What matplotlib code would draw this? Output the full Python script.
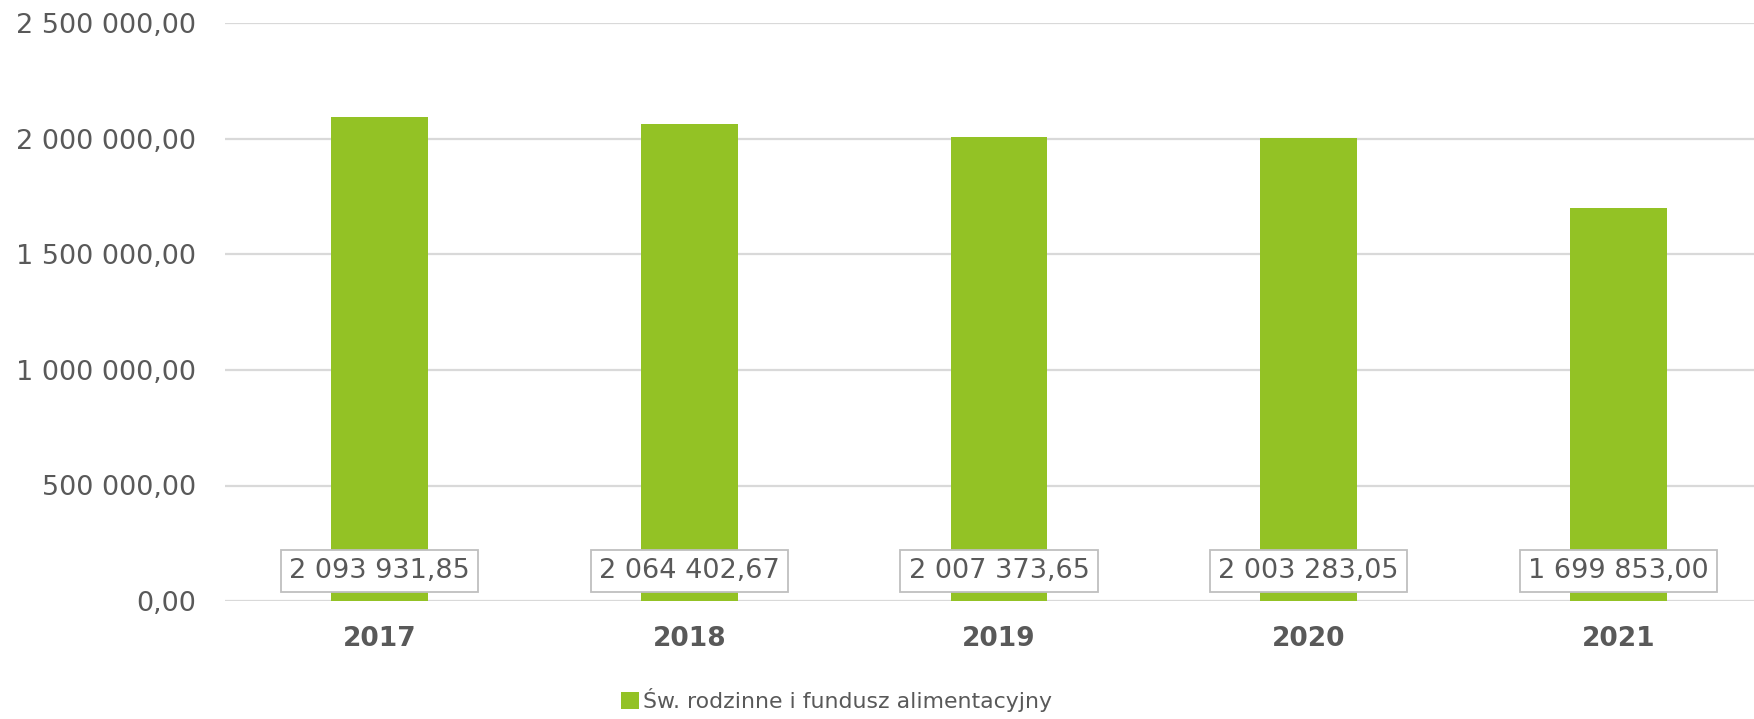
import matplotlib.pyplot as plt
import numpy as np

years = ["2017", "2018", "2019", "2020", "2021"]
values = [2093931.85, 2064402.67, 2007373.65, 2003283.05, 1699853.00]
series_name = "Św. rodzinne i fundusz alimentacyjny"
yticks = [0, 500000, 1000000, 1500000, 2000000, 2500000]

bar_color = "#93c225"
text_color = "#595959"
grid_color = "#d9d9d9"


def fmt(v):
    # polish style: space thousands, comma decimals
    s = "{:,.2f}".format(v)
    return s.replace(",", " ").replace(".", ",")


plt.rcParams["font.family"] = ["DejaVu Sans"]

fig = plt.figure(figsize=(17.54, 7.19), dpi=100)
ax = fig.add_axes([225 / 1754, 1 - 601 / 719, 1548 / 1754, 577.5 / 719])

x = np.arange(len(years))
bars = ax.bar(x, values, width=0.313, color=bar_color, zorder=2, label=series_name)

ax.set_xlim(-0.5, len(years) - 0.5)
ax.set_ylim(0, 2500000)
ax.set_yticks(yticks)
ax.set_yticklabels([fmt(t) for t in yticks], fontsize=19.5, color=text_color)
ax.set_xticks(x)
ax.set_xticklabels(years, fontsize=19, fontweight="bold", color=text_color)
ax.tick_params(axis="y", length=0, pad=21)
ax.tick_params(axis="x", length=0, pad=18)

for s in ax.spines.values():
    s.set_visible(False)
ax.yaxis.grid(True, color=grid_color, linewidth=1.6, zorder=0)
ax.set_axisbelow(True)

for i, v in enumerate(values):
    ax.annotate(fmt(v), (i, 0), xytext=(0, 30), textcoords="offset pixels",
                ha="center", va="center", fontsize=19.5, color=text_color, zorder=3,
                bbox=dict(boxstyle="square,pad=0.3", fc="white", ec="#bfbfbf", lw=1.3))

leg = fig.legend(handles=[bars], labels=[series_name], loc="center left",
                 bbox_to_anchor=(621 / 1754, 1 - 700 / 719), frameon=False,
                 fontsize=15.8, handlelength=0.8, handleheight=0.8, handletextpad=0.2,
                 borderpad=0, borderaxespad=0)
for t in leg.get_texts():
    t.set_color(text_color)

fig.savefig("out.png", dpi=100)
